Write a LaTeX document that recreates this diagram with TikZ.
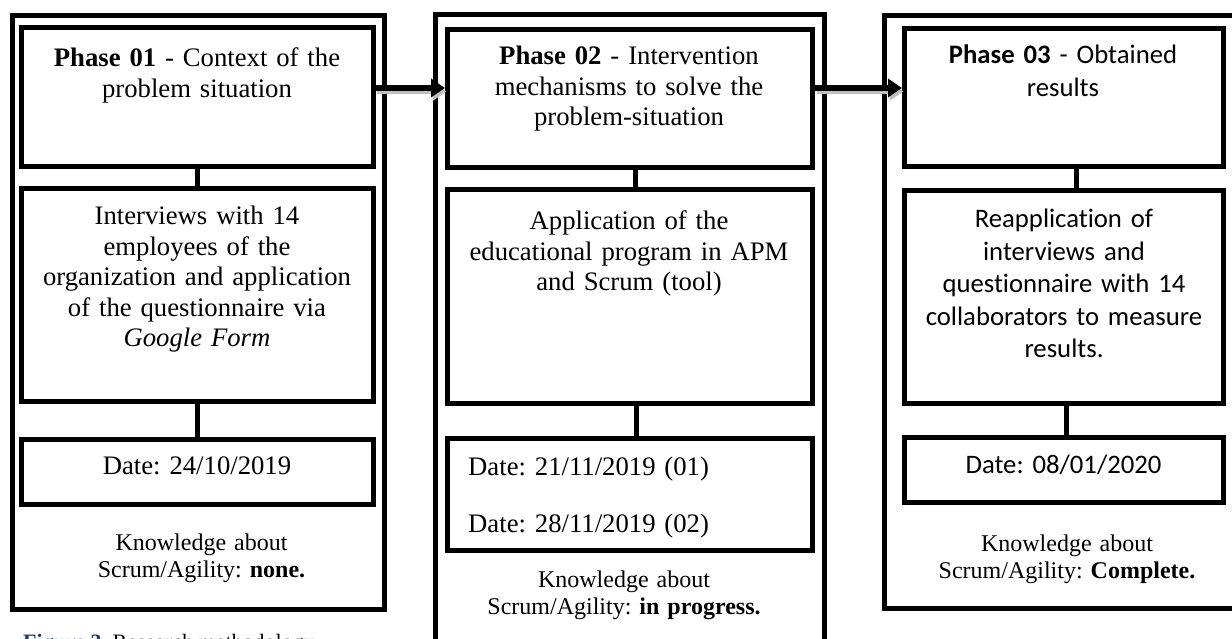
\documentclass[tikz,border=0pt]{standalone}
\usepackage{fontspec}
\setmainfont{Liberation Serif}
\newfontfamily\calibrifont[Ligatures=NoCommon]{Carlito}
\usetikzlibrary{arrows.meta}
\definecolor{capblue}{RGB}{31,56,100}
\frenchspacing
\begin{document}
\begin{tikzpicture}[x=1pt,y=-1pt,
  box/.style={draw=black, line width=5pt, rectangle, inner sep=0pt},
  link/.style={draw=black, line width=5pt},
  flow/.style={line width=6pt, -{Triangle[length=14pt,width=18pt]}},
  txt/.style={inner sep=0pt, text width=345pt, align=center, anchor=base,
    font=\fontsize{26.7pt}{30.5pt}\selectfont},
  ctxt/.style={inner sep=0pt, text width=310pt, align=center, anchor=base,
    font=\calibrifont\fontsize{26.7pt}{32.5pt}\selectfont},
  ktxt/.style={inner sep=0pt, text width=340pt, align=center, anchor=base,
    font=\fontsize{24pt}{27.5pt}\selectfont}]
\useasboundingbox (0,0) rectangle (1232,639);
\clip (0,0) rectangle (1232,639);

% outer phase frames
\node[box, minimum width=372pt, minimum height=594pt] (outerL) at (198.5,312.5) {};
\node[box, minimum width=389pt, minimum height=665.5pt] (outerM) at (629.5,347.25) {};
\node[box, minimum width=380pt, minimum height=593pt] (outerR) at (1074.5,312) {};

% phase 01
\node[box, minimum width=352pt, minimum height=139pt] (headL) at (197,97.5) {};
\node[box, minimum width=352pt, minimum height=212pt] (bodyL) at (197,295) {};
\node[box, minimum width=352pt, minimum height=65pt] (dateL) at (197,471.5) {};

% phase 02
\node[box, minimum width=365pt, minimum height=137.5pt] (headM) at (630,98.75) {};
\node[box, minimum width=365pt, minimum height=213pt] (bodyM) at (630,296.5) {};
\node[box, minimum width=365pt, minimum height=112pt] (dateM) at (630,494) {};

% phase 03
\node[box, minimum width=318.5pt, minimum height=138pt] (headR) at (1063.75,98) {};
\node[box, minimum width=318.5pt, minimum height=212.5pt] (bodyR) at (1063.75,296.75) {};
\node[box, minimum width=318.5pt, minimum height=65.5pt] (dateR) at (1063.75,469.75) {};

% vertical links inside each phase
\draw[link] (headL.south) -- (bodyL.north);
\draw[link] (bodyL.south) -- (dateL.north);
\draw[link] ([xshift=5pt]headM.south) -- ([xshift=5pt]bodyM.north);
\draw[link] ([xshift=6.5pt]bodyM.south) -- ([xshift=6.5pt]dateM.north);
\draw[link] ([xshift=13pt]headR.south) -- ([xshift=13pt]bodyR.north);
\draw[link] ([xshift=3pt]bodyR.south) -- ([xshift=3pt]dateR.north);

% arrows between phases, with a soft shadow
\coordinate (ay) at (0,88);
\draw[flow, gray!50, transform canvas={shift={(1.5pt,-3.5pt)}}] (headL.east |- ay) -- (headM.west |- ay);
\draw[flow, gray!50, transform canvas={shift={(1.5pt,-3.5pt)}}] (headM.east |- ay) -- (headR.west |- ay);
\draw[flow] (headL.east |- ay) -- (headM.west |- ay);
\draw[flow] (headM.east |- ay) -- (headR.west |- ay);

% texts, phase 01
\node[txt] (tHeadL) at (197,67) {\textbf{Phase 01} - Context of the\\problem situation};
\node[txt] (tBodyL) at (197,225) {Interviews with 14\\employees of the\\organization and application\\of the questionnaire via\\\textit{Google Form}};
\node[txt] (tDateL) at (197,474) {Date: 24/10/2019};
\node[ktxt] (tKnowL) at (201.5,550) {Knowledge about\\Scrum/Agility: \textbf{none.}};

% texts, phase 02
\node[txt] (tHeadM) at (629,65) {\textbf{Phase 02} - Intervention\\mechanisms to solve the\\problem-situation};
\node[txt] (tBodyM) at (629,230) {Application of the\\educational program in APM\\and Scrum (tool)};
\node[inner sep=0pt, text width=330pt, align=left, anchor=base west,
  font=\fontsize{26.7pt}{57pt}\selectfont] (tDateM) at (468,475) {Date: 21/11/2019 (01)\\Date: 28/11/2019 (02)};
\node[ktxt] (tKnowM) at (624,587) {Knowledge about\\Scrum/Agility: \textbf{in progress.}};

% texts, phase 03
\node[ctxt] (tHeadR) at (1063,64) {\textbf{Phase 03} - Obtained\\results};
\node[ctxt] (tBodyR) at (1064,228) {Reapplication of\\interviews and\\questionnaire with 14\\collaborators to measure\\results.};
\node[ctxt] (tDateR) at (1063.5,473) {Date: 08/01/2020};
\node[ktxt] (tKnowR) at (1067,551) {Knowledge about\\Scrum/Agility: \textbf{Complete.}};

% caption
\node[inner sep=0pt, anchor=base west, font=\fontsize{22pt}{26pt}\selectfont] (caption) at (23,649)
  {\textcolor{capblue}{\textbf{Figure 3.}} Research methodology};
\end{tikzpicture}
\end{document}
